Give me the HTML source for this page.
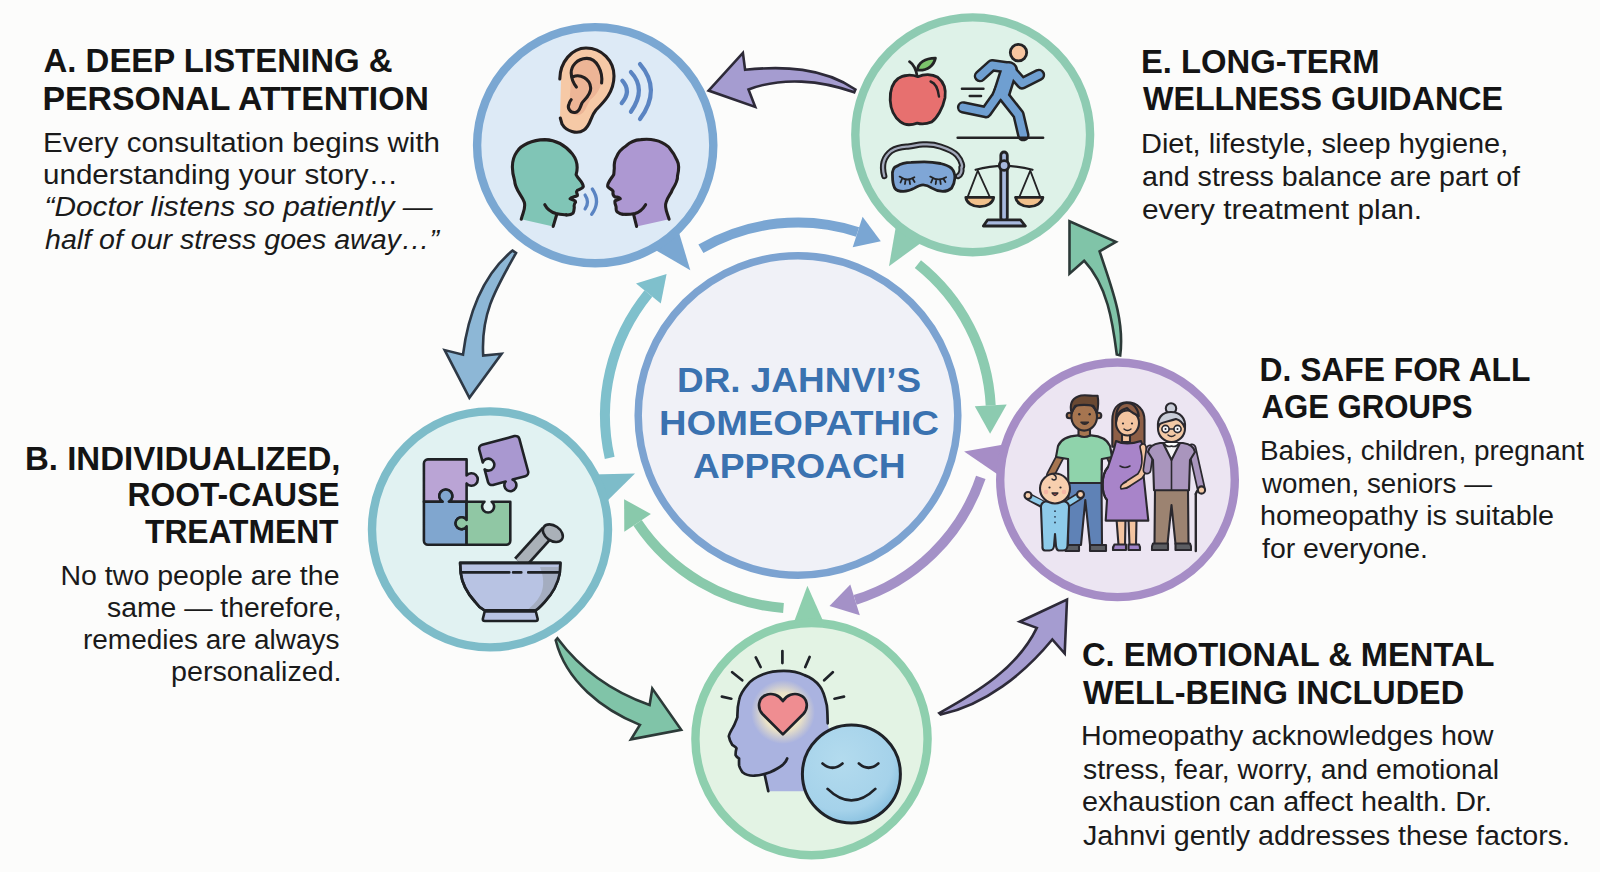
<!DOCTYPE html>
<html><head><meta charset="utf-8">
<style>
html,body{margin:0;padding:0;background:#fcfcfb;}
body{width:1600px;height:872px;overflow:hidden;position:relative;}
svg{position:absolute;left:0;top:0;}
.h{font-family:"Liberation Sans",sans-serif;font-weight:bold;font-size:33px;fill:#141414;}
.b{font-family:"Liberation Sans",sans-serif;font-size:27px;fill:#1a1a1a;}
.i{font-style:italic;}
.ct{font-family:"Liberation Sans",sans-serif;font-weight:bold;font-size:35.5px;fill:#3a72b0;}

</style></head>
<body>
<svg width="1600" height="872" viewBox="0 0 1600 872">
<defs><radialGradient id="glow" cx="0.5" cy="0.5" r="0.5">
<stop offset="0" stop-color="#fff6c8" stop-opacity="1"/>
<stop offset="0.6" stop-color="#fbeec0" stop-opacity="0.8"/>
<stop offset="1" stop-color="#f5e8c0" stop-opacity="0"/>
</radialGradient>
<radialGradient id="smg" cx="0.4" cy="0.35" r="0.7">
<stop offset="0" stop-color="#b3dbee"/>
<stop offset="0.75" stop-color="#a5d2ea"/>
<stop offset="1" stop-color="#86bfdf"/>
</radialGradient>
</defs>
<path d="M700.9,248.7 A193,193 0 0 1 857.6,231.9" fill="none" stroke="#7aa6d3" stroke-width="10"/><polygon points="862.6,216.7 880.8,241.2 852.7,247.2" fill="#7aa6d3"/>
<path d="M917.9,264.2 A193,193 0 0 1 990.7,405.4" fill="none" stroke="#8ccbb0" stroke-width="10"/><polygon points="1006.7,404.6 990.1,433.7 974.8,406.2" fill="#8ccbb0"/>
<path d="M980.8,477.4 A193,193 0 0 1 855.1,599.9" fill="none" stroke="#a491c7" stroke-width="10"/><polygon points="859.8,615.2 829.5,605.9 850.3,584.6" fill="#a491c7"/>
<path d="M783.5,608.0 A193,193 0 0 1 637.6,522.9" fill="none" stroke="#89c9ab" stroke-width="10"/><polygon points="624.3,531.8 624.1,499.2 650.9,514.0" fill="#89c9ab"/>
<path d="M609.7,457.9 A193,193 0 0 1 648.4,293.5" fill="none" stroke="#7fc0cc" stroke-width="10"/><polygon points="636.0,283.4 666.6,274.1 660.8,303.6" fill="#7fc0cc"/>
<circle cx="798" cy="415.5" r="159.8" fill="#f0f1f7" stroke="#7ca3d1" stroke-width="7.5"/>
<polygon points="677.4,227.2 690.3,270.2 650.6,247.2" fill="#7aa7d2"/>
<circle cx="595.2" cy="145.2" r="118.1" fill="#ddeaf6" stroke="#7aa7d2" stroke-width="8.4"/>
<polygon points="925.0,239.9 889,266.3 896.7,221.6" fill="#8ecbb2"/>
<circle cx="972.7" cy="134.8" r="117.39999999999999" fill="#def2e8" stroke="#8ecbb2" stroke-width="8.4"/>
<polygon points="592.1,474.4 635,473.6 603.3,504.7" fill="#7dbcc9"/>
<circle cx="490" cy="529.4" r="118.0" fill="#e1f2f2" stroke="#7dbcc9" stroke-width="8.4"/>
<polygon points="1002.2,477.6 964.1,451.5 1008.0,443.8" fill="#a68dc6"/>
<circle cx="1117.5" cy="479.8" r="117.3" fill="#ece5f2" stroke="#a68dc6" stroke-width="8.4"/>
<polygon points="792.3,626.6 807.4,585.7 825.2,625.8" fill="#8ecfae"/>
<circle cx="811.5" cy="739.1" r="116.1" fill="#e3f3e4" stroke="#8ecfae" stroke-width="8.4"/>
<g stroke-width="2.6" stroke-linejoin="miter" stroke-miterlimit="10">
<path d="M745.1,69.8 C783.3,65.9 822.9,67.4 855.4,89.5 L854.2,92.3 C821.0,80.3 782.0,76.7 748.5,89.5 L755.2,106.9 L708.6,90.6 L742.9,52.9 Z" fill="#a59cd0" stroke="#2d2a38"/>
<path d="M512.6,250.6 C481.6,275.7 467.7,316.6 463.0,354.7 L444.7,350.1 L469.4,397.8 L501.6,353.8 L483.2,355.6 C480.7,312.5 496.6,287.7 516.0,253.0 Z" fill="#8db7d6" stroke="#2e3946"/>
<path d="M557.4,638.3 C580.8,669.6 612.7,692.2 649.6,705.0 L652.3,688.5 L681.2,729.8 L631.0,739.4 L639.9,724.9 C602.3,709.6 565.9,681.3 555.7,640.3 Z" fill="#80c4a8" stroke="#2c3a38"/>
<path d="M939.3,713.1 C977.1,692.2 1017.2,668.4 1036.8,627.9 L1019.8,621.7 L1067.0,599.6 L1064.7,653.5 L1052.3,639.5 C1023.6,674.3 985.4,704.7 940.8,714.6 Z" fill="#a59cd0" stroke="#2d2a38"/>
<path d="M1120.2,355.4 C1124.9,319.3 1110.5,284.8 1099.6,251.3 L1115.9,241.8 L1069.5,221.2 L1069.5,273.7 L1084.1,260.7 C1107.4,285.5 1112.7,322.1 1116.8,354.5 Z" fill="#80c4a8" stroke="#2c3a38"/>
</g>
<g id="iconA" stroke="#231f20" stroke-width="3.1" stroke-linecap="round" stroke-linejoin="round">
<!-- ear -->
<path d="M561,79 C560,62 572,48 586,48 C602,48 614,61 614,76 C614,92 604,102 596,110 C590,117 591,125 584,130 C577,135 566,131 562,124 L560,118 Z" fill="#f6c9a6" stroke="none"/>
<path d="M586.5,58.4 C597,58 603,72 601.6,83 C598,95 590,100 590,100 L585,110 C580,118 572,116 569,110 L571,80 C571,66 577,58.8 586.5,58.4 Z" fill="#e9ae90" stroke="none" opacity="0.75"/>
<path d="M559.8,79 C560,62 572,48 586,48 C602,48 614,61 614,76 C614,92 604,102 596,110 C590,117 591,125 584,130 C577,135 566,131 562,124 L560.3,118" fill="none"/>
<path d="M601.6,83 C603,72 597,58 586.5,58.4 C577,58.8 571,66 571.2,73 C571.4,80 574,84 576.4,87" fill="none"/>
<path d="M573,76.7 C580,74 590,78 590.7,88 C591,95 584,100 582,103 C580,107 580,112 575,112.5 C570,113 567,108 569,104 C569.5,102 570.5,100.5 571.2,99.6" fill="none"/>
<!-- waves -->
<g stroke="#5a84c2" stroke-width="4.2" fill="none">
<path d="M622.3,80.7 Q631.8,91.3 621.7,103.1"/>
<path d="M630.9,72.1 Q646.9,89.1 630.9,111.7"/>
<path d="M640,64.1 Q661.8,89.4 640,119.1"/>
<path d="M585.1,195.1 Q589.9,202 585.1,208.9" stroke-width="3.3"/>
<path d="M592.3,189 Q601,201.6 591.7,214.3" stroke-width="3.3"/>
</g>
<!-- left head -->
<path d="M521.3,219.2 C523,212 526,208 524.3,202.3 C522,195 515,190 514.6,180.6 C512,172 511,160 517,151.7 C521,145 532,140 544.8,139.6 C556,140 566,146 572.5,154.1 C577,160 578,168 576.1,174.6 C578,179 583,182 583.3,186.6 C582,190 577,189 576.7,191.4 C576,193 578,194 577.3,195.7 C575,197 571,197 570.1,198.7 C572,200 576,200 575.5,202.3 C574,204 574,206 574.3,207.1 C574,210 574,212 573.1,213.1 C571,215 568,215 556.8,214.3 L553.2,226.4 Z" fill="#80c5b6" stroke="none"/>
<path d="M521.3,219.2 C523,212 526,208 524.3,202.3 C522,195 515,190 514.6,180.6 C512,172 511,160 517,151.7 C521,145 532,140 544.8,139.6 C556,140 566,146 572.5,154.1 C577,160 578,168 576.1,174.6 C578,179 583,182 583.3,186.6 C582,190 577,189 576.7,191.4 C576,193 578,194 577.3,195.7 C575,197 571,197 570.1,198.7 C572,200 576,200 575.5,202.3 C574,204 574,206 574.3,207.1 C574,210 574,212 573.1,213.1 C571,215 568,215 566.4,214.9" fill="none"/>
<path d="M544.8,204.7 C547,209 551,212 556,213.5 C560,214.5 563,214.6 566.4,214.9" fill="none"/>
<path d="M556.8,214.3 L553.2,226.4" fill="none"/>
<!-- right head -->
<path d="M669.1,219.2 C667,212 664,207 666.1,202.3 C668,196 671,194 672.1,190.2 C676,184 678,180 677.5,175.8 C679,170 679,164 676.9,160.1 C674,153 671,150 668.5,146.9 C664,143 660,141 655.2,140.2 C650,139 646,139 640.8,139.6 C634,140 630,142 626.3,145.7 C621,149 618,153 616.7,156.5 C614,161 614,165 614.3,168.6 C614,171 614,173 613.7,174.6 C611,179 607,183 607.7,186.6 C609,189 612,189 613.1,191.4 C613,193 612,195 614.9,196.9 C617,197 619,197 620.3,198.7 C618,200 614,200 614.9,202.3 C615,204 616,206 616.1,207.1 C616,209 616,211 617.3,211.9 C619,213 620,214 633.6,214.3 L636.6,226.4 Z" fill="#ad98d2" stroke="none"/>
<path d="M669.1,219.2 C667,212 664,207 666.1,202.3 C668,196 671,194 672.1,190.2 C676,184 678,180 677.5,175.8 C679,170 679,164 676.9,160.1 C674,153 671,150 668.5,146.9 C664,143 660,141 655.2,140.2 C650,139 646,139 640.8,139.6 C634,140 630,142 626.3,145.7 C621,149 618,153 616.7,156.5 C614,161 614,165 614.3,168.6 C614,171 614,173 613.7,174.6 C611,179 607,183 607.7,186.6 C609,189 612,189 613.1,191.4 C613,193 612,195 614.9,196.9 C617,197 619,197 620.3,198.7 C618,200 614,200 614.9,202.3 C615,204 616,206 616.1,207.1 C616,209 616,211 617.3,211.9 C619,213 620,214 622.7,214.3" fill="none"/>
<path d="M645.6,204.7 C643,209 640,212 635,213.5 C630,214.5 627,214.6 622.7,214.3" fill="none"/>
<path d="M633.6,214.3 L636.6,226.4" fill="none"/>
</g>

<g id="iconE" stroke="#232325" stroke-width="2.8" stroke-linecap="round" stroke-linejoin="round">
<!-- apple -->
<path d="M909.5,61.7 C913,64 916,69 917.3,76.7" fill="none"/>
<path d="M917.3,70.1 C918,63 925,58 935.4,58.1 C934,65 928,71 917.3,70.1 Z" fill="#7cc46c"/>
<path d="M917.9,76.7 C912,74.5 903,74.5 898.1,78.5 C892,83 890,92 890.2,100.2 C890.5,107 893,116 900.5,121.9 C905,125.5 912,125 917.3,123.1 C920,124 924,125 931.8,121.9 C937,118 943,108 945,97.8 C946,91 945,83 937.8,77.3 C932,74 924,74 917.9,76.7 Z" fill="#e7706f"/>
<path d="M930.6,81.5 C935,83 938,88 939,96.6" fill="none" stroke-width="2.4"/>
<!-- speed lines -->
<path d="M961.9,88.8 L983.5,88.8 M969.7,96 L981.1,96" fill="none" stroke-width="2.4"/>
<!-- runner limbs: outline then fill -->
<g fill="none" stroke-linecap="round" stroke-linejoin="round">
<path d="M980,76.1 L992,65.3 L1008,67.5 L1022.1,83.3 L1038.9,74.9" stroke="#232325" stroke-width="12.5"/>
<path d="M963.1,107.4 L986,112.2 L997,96.6 L1004,81 L1008,68" stroke="#232325" stroke-width="12.5"/>
<path d="M1003,95 L1018.5,114.6 L1023.3,135.1" stroke="#232325" stroke-width="12.5"/>
<path d="M1002,92 L1009,70" stroke="#232325" stroke-width="18"/>
<path d="M980,76.1 L992,65.3 L1008,67.5 L1022.1,83.3 L1038.9,74.9" stroke="#6f9fd1" stroke-width="7.5"/>
<path d="M963.1,107.4 L986,112.2 L997,96.6 L1004,81 L1008,68" stroke="#6f9fd1" stroke-width="7.5"/>
<path d="M1003,95 L1018.5,114.6 L1023.3,135.1" stroke="#6f9fd1" stroke-width="7.5"/>
<path d="M1002,92 L1009,70" stroke="#6f9fd1" stroke-width="13"/>
</g>
<circle cx="1018.5" cy="52.6" r="8.2" fill="#f7c6a0"/>
<path d="M957.7,137.8 L1043.1,137.8" fill="none" stroke-width="2.6"/>
<!-- sleep mask -->
<path d="M884.3,176.1 C882,168 882,158 891.4,150.9 C898,147 903,147 907.8,146.6 C915,146 918,144 924.2,144.4 C931,144 936,145 940.6,146.6 C948,149 955,153 957,155.3 C962,161 963,168 961.4,167.3 C962,172 960,175 958.1,176.1" fill="none" stroke="#232325" stroke-width="6.2"/>
<path d="M884.3,176.1 C882,168 882,158 891.4,150.9 C898,147 903,147 907.8,146.6 C915,146 918,144 924.2,144.4 C931,144 936,145 940.6,146.6 C948,149 955,153 957,155.3 C962,161 963,168 961.4,167.3 C962,172 960,175 958.1,176.1" fill="none" stroke="#a3a9bb" stroke-width="2.3"/>
<path d="M892.5,176.1 C892,170 894,167 896.9,166.2 C902,163 906,162.5 911.1,162.4 C916,162 920,161.9 924.2,161.9 C930,162 935,162.5 940.6,163.5 C945,164.5 949,166 951.6,168.4 C954,171 955,175 954.8,178.3 C954.5,182 953,186 951.6,188.1 C949,190.5 946,191.4 942.8,191.4 C938,191.4 935,190 931.9,188.1 C929,186 926,184.8 923.1,184.8 C920,184.8 917,186.5 914.4,188.1 C911,190 907,191.4 903.4,191.4 C899,191.4 896,190 894.7,188.1 C893,185 892.5,181 892.5,176.1 Z" fill="#7fa6d6"/>
<g fill="none" stroke-width="1.8">
<path d="M899.6,176.6 Q907,182 914.4,177.2 M902,179 L900.5,182.5 M905.5,180.2 L905,184 M909.5,180.4 L910,184 M912.8,179 L914.6,182"/>
<path d="M930.2,176.6 Q938,182 946.1,177.2 M932.6,179 L931.1,182.5 M936.2,180.2 L935.7,184 M940.2,180.4 L940.7,184 M943.6,179 L945.4,182"/>
</g>
<!-- scale -->
<path d="M975.6,169.8 Q1004,162 1032.5,169.8" fill="none" stroke-width="2.2"/>
<path d="M977.8,170.6 L967.5,197.4 M977.8,170.6 L990,197.4 M1030.3,170.6 L1019.2,197.4 M1030.3,170.6 L1040.4,197.4" fill="none" stroke-width="1.8"/>
<path d="M965.8,197.4 L993.7,197.4 C993,203 987,206.7 979.8,206.7 C972.5,206.7 966.5,203 965.8,197.4 Z" fill="#f2c18c"/>
<path d="M1015.5,197.4 L1042.9,197.4 C1042,203 1036,206.7 1029.2,206.7 C1022.4,206.7 1016.4,203 1015.5,197.4 Z" fill="#f2c18c"/>
<rect x="1000.8" y="152" width="6.5" height="69" rx="3.2" fill="#a8b9de"/>
<circle cx="1004.1" cy="165.5" r="4.8" fill="#a8b9de"/>
<path d="M987.7,219.8 L1020.5,219.8 L1025.4,226 L983.3,226 Z" fill="#a8b9de"/>
</g>

<g id="iconB" stroke="#1f2226" stroke-width="2.6" stroke-linejoin="round" stroke-linecap="round">
<!-- puzzle -->
<path d="M427.9,459.4 L466.6,459.4 L466.6,475.5 A6.3,6.3 0 1 1 466.6,483.5 L466.6,501.7 L448.9,501.7 A6.5,6.5 0 1 0 442.7,501.7 L423.9,501.7 L423.9,463.4 A4,4 0 0 1 427.9,459.4 Z" fill="#baa4d5"/>
<path d="M423.9,501.7 L442.7,501.7 A6.5,6.5 0 1 1 448.9,501.7 L466.6,501.7 L466.6,520 A6,6 0 1 0 466.6,526.4 L466.6,544.7 L427.9,544.7 A4,4 0 0 1 423.9,540.7 Z" fill="#80a6cf"/>
<path d="M466.6,501.7 L484.5,501.7 A6,6 0 1 0 491.7,501.7 L510.3,501.7 L510.3,540.7 A4,4 0 0 1 506.3,544.7 L466.6,544.7 L466.6,526.4 A6,6 0 1 1 466.6,520 Z" fill="#90c7a4"/>
<g transform="translate(503.7,460.5) rotate(-15.1)">
<path d="M-16.75,-20.75 L16.75,-20.75 A4,4 0 0 1 20.75,-16.75 L20.75,16.75 A4,4 0 0 1 16.75,20.75 L3.6,20.75 A6,6 0 1 1 -3.6,20.75 L-16.75,20.75 A4,4 0 0 1 -20.75,16.75 L-20.75,3.6 A6,6 0 1 0 -20.75,-3.6 L-20.75,-16.75 A4,4 0 0 1 -16.75,-20.75 Z" fill="#a998d0"/>
</g>
<!-- pestle -->
<path d="M520,563 L548,532" stroke="#1f2226" stroke-width="16" fill="none" stroke-linecap="butt"/>
<path d="M520,563 L548,532" stroke="#aab1b8" stroke-width="10.5" fill="none" stroke-linecap="butt"/>
<ellipse cx="552.8" cy="533.2" rx="11" ry="7.5" transform="rotate(35 552.8 533.2)" fill="#aab1b8"/>
<!-- bowl -->
<path d="M460.1,562.9 L560.4,562.9 L559.8,573 C558,583 554,592 544.6,602 C541,606 538,609 535.8,610.2 L484.1,610.2 C480,608 478,606 475.2,602 C467,593 462,584 460.7,573 Z" fill="#b8c3e3"/>
<path d="M540,567 L559.5,567 L559.8,573 C558,583 554,592 544.6,602 C541,606 538,609 535.8,610.2 L527,610.2 C540,600 548,588 540,567 Z" fill="#a4adc0" stroke="none"/>
<path d="M460.1,562.9 L560.4,562.9 L559.8,573 C558,583 554,592 544.6,602 C541,606 538,609 535.8,610.2 L484.1,610.2 C480,608 478,606 475.2,602 C467,593 462,584 460.7,573 Z" fill="none"/>
<path d="M462,572.4 L509.3,572.4 M513.1,572.4 L521.3,572.4 M528.2,572.4 L558.5,572.4" fill="none"/>
<path d="M484.7,611.5 L535.8,611.5 L537.7,619 Q537.7,621 535.7,621 L484.8,621 Q482.8,621 482.8,619 Z" fill="#b8c3e3"/>
</g>

<g id="iconD" stroke="#2a282e" stroke-width="2.1" stroke-linecap="round" stroke-linejoin="round">
<!-- MAN -->
<!-- arms -->
<path d="M1061,455 L1050.5,475" stroke="#2a282e" stroke-width="9" fill="none"/>
<path d="M1061,455 L1050.5,475" stroke="#a67550" stroke-width="5.5" fill="none"/>
<path d="M1108,452 L1113,463" stroke="#2a282e" stroke-width="8.5" fill="none"/>
<path d="M1108,452 L1113,463" stroke="#a67550" stroke-width="5" fill="none"/>
<!-- jeans -->
<path d="M1068.5,482 L1101.5,482 L1102,545 L1090,545 L1085.3,500 L1081,545 L1068,545 Z" fill="#5f82b6"/>
<path d="M1065.5,545 L1079,545 L1079,551 L1065.5,551 Z M1090,545 L1106,545 L1106,551 L1090,551 Z" fill="#5c5e63"/>
<!-- shirt -->
<path d="M1078,435.4 L1091,435.4 C1100,436 1107,439 1110,446 L1112,457 L1102,459 L1101.5,483 L1068.3,483 L1068,459 L1056,457 L1058,446 C1061,439 1068,436 1078,435.4 Z" fill="#8fd3ab"/>
<path d="M1068.3,459 L1068.3,470 M1101.5,459 L1101.5,470" fill="none" stroke-width="1.6"/>
<!-- neck -->
<path d="M1078.5,427 L1078.5,435.5 Q1084.3,438.5 1090,435.5 L1090,427 Z" fill="#a67550"/>
<!-- head -->
<circle cx="1069.5" cy="415.5" r="2.8" fill="#a67550"/>
<circle cx="1098.5" cy="415.5" r="2.8" fill="#a67550"/>
<ellipse cx="1084.2" cy="416.8" rx="12.8" ry="13.8" fill="#a67550"/>
<path d="M1071.6,413 C1069.5,405 1072,399 1078,396.5 C1082,394.5 1086,395 1090,395.6 C1093,396 1096,395.5 1097.6,395.8 C1098.5,401 1098.5,407 1096.8,413 C1095.5,410 1094.5,407 1093.5,405.8 C1088,404.8 1080,404.8 1075.2,405.8 C1073.8,408 1072.6,410.5 1071.6,413 Z" fill="#694832"/>
<circle cx="1079.3" cy="414.3" r="1.2" fill="#2a282e" stroke="none"/>
<circle cx="1089.7" cy="414.3" r="1.2" fill="#2a282e" stroke="none"/>
<path d="M1080.9,422.2 Q1084.7,426.5 1088.5,422.2 Z" fill="#3a2a22" stroke-width="1.3"/>
<!-- BABY -->
<path d="M1042,504 L1029,497" stroke="#2a282e" stroke-width="8" fill="none"/>
<path d="M1067.3,503.6 L1079.6,496" stroke="#2a282e" stroke-width="8" fill="none"/>
<path d="M1042.7,503.6 L1029,497" stroke="#8ecbea" stroke-width="4.8" fill="none"/>
<path d="M1067.3,503.6 L1079.6,496" stroke="#8ecbea" stroke-width="4.8" fill="none"/>
<circle cx="1028" cy="495.5" r="3.5" fill="#f7cfae"/>
<circle cx="1080.5" cy="494.5" r="3.5" fill="#f7cfae"/>
<path d="M1045,501.5 L1065,501.5 Q1069.5,503 1069,508 L1067.5,546 Q1067,550.5 1063,550.5 L1058.5,550.5 Q1056.5,550 1056,546 L1055,534 L1054,546 Q1053.5,550.5 1049.5,550.5 L1045,550.5 Q1042,550 1042.5,546 L1041,508 Q1040.5,503 1045,501.5 Z" fill="#8ecbea"/>
<circle cx="1055" cy="511.2" r="0.9" fill="#2a3a50" stroke="none"/>
<circle cx="1055" cy="516.8" r="0.9" fill="#2a3a50" stroke="none"/>
<circle cx="1055" cy="522.5" r="0.9" fill="#2a3a50" stroke="none"/>
<circle cx="1055" cy="488.5" r="15" fill="#f7cfae"/>
<path d="M1053,474 Q1057,476 1056,479 Q1054,481 1052,479" fill="none" stroke-width="1.4"/>
<circle cx="1049.5" cy="487.5" r="1.1" fill="#2a282e" stroke="none"/>
<circle cx="1060.5" cy="487.5" r="1.1" fill="#2a282e" stroke="none"/>
<circle cx="1046" cy="492" r="2.3" fill="#f4a9a0" stroke="none" opacity="0.7"/>
<circle cx="1064" cy="492" r="2.3" fill="#f4a9a0" stroke="none" opacity="0.7"/>
<path d="M1052,493 Q1055,498 1058,493 Z" fill="#c0504a" stroke-width="1.3"/>
<!-- WOMAN -->
<path d="M1126.5,402.3 C1117,402.5 1112.5,410 1112.3,420 L1112.3,446.8 L1144.5,446.8 L1144.5,420 C1144.5,410 1138,402.3 1126.5,402.3 Z" fill="#8e5f46"/>
<path d="M1122,434 L1122,442 L1130,442 L1130,434 Z" fill="#f3c4a0"/>
<!-- legs -->
<path d="M1116.5,519 L1118.5,545 L1125,545 L1125.5,519 Z M1128.5,519 L1129.5,545 L1136,545 L1136.5,519 Z" fill="#f3c4a0"/>
<path d="M1114.5,544.5 L1126,544.5 L1126,550 L1113,550 Q1112.5,547 1114.5,544.5 Z M1128.5,544.5 L1139,544.5 Q1140.5,547 1140,550 L1128.5,550 Z" fill="#9d82c6"/>
<!-- dress -->
<path d="M1116,441 Q1126,446 1141,441 L1144,449 L1143,470 L1148.3,520.6 L1105.7,520.6 L1107,500 C1101,493 1101,475 1108,467 L1114,449 Z" fill="#a884c9"/>
<path d="M1108,467 C1101,475 1101,493 1107,500" fill="none"/>
<path d="M1120,466 Q1125,469 1130,466" fill="none" stroke-width="1.5"/>
<!-- arm on belly -->
<path d="M1143,447 C1146,458 1146,468 1140,476 L1126,485" stroke="#2a282e" stroke-width="7.5" fill="none"/>
<path d="M1143,447 C1146,458 1146,468 1140,476 L1126,485" stroke="#f3c4a0" stroke-width="4.3" fill="none"/>
<path d="M1126,482 Q1119,485 1121,489 Q1126,489 1130,486" fill="#f3c4a0" stroke-width="1.6"/>
<!-- face -->
<ellipse cx="1127.5" cy="423" rx="11.5" ry="12.5" fill="#f3c4a0"/>
<path d="M1116.2,422 C1117,413 1120,410 1127,408 C1130,412 1135,414 1138.8,416 C1138,408 1133,403 1127,403 C1120,403 1115,409 1116.2,422 Z" fill="#8e5f46"/>
<circle cx="1123" cy="423.5" r="1.1" fill="#2a282e" stroke="none"/>
<circle cx="1132" cy="423.5" r="1.1" fill="#2a282e" stroke="none"/>
<path d="M1124,429 Q1127.5,432 1131,429" fill="none" stroke-width="1.4"/>
<!-- GRANDMA -->
<path d="M1155,490 L1188,490 L1188.5,544 L1175.5,544 L1171.5,505 L1167.5,544 L1154.5,544 Z" fill="#9c8371"/>
<path d="M1153,543.5 L1168,543.5 L1168,550 L1152,550 Q1151.5,546 1153,543.5 Z M1175.5,543.5 L1190,543.5 Q1191.5,546 1191,550 L1175.5,550 Z" fill="#5c5e63"/>
<!-- cane -->
<path d="M1195.8,494 L1195.8,551" fill="none" stroke-width="2.4"/>
<path d="M1195.8,494 Q1198,487 1203,492" fill="none" stroke-width="2.4"/>
<!-- arms -->
<path d="M1192,448 L1201,488" stroke="#2a282e" stroke-width="9" fill="none"/>
<path d="M1192,448 L1201,488" stroke="#a995bd" stroke-width="5.6" fill="none"/>
<circle cx="1201.5" cy="490" r="3.6" fill="#f3c9a5"/>
<path d="M1150,449 L1147,470" stroke="#2a282e" stroke-width="9" fill="none"/>
<path d="M1150,449 L1147,470" stroke="#a995bd" stroke-width="5.6" fill="none"/>
<!-- cardigan -->
<path d="M1160,443 L1183,443 C1190,444 1194,447 1195,452 L1190,460 L1189,490.3 L1154,490.3 L1153,460 L1148,452 C1149,447 1153,444 1160,443 Z" fill="#a995bd"/>
<path d="M1163,443 L1171.5,460 L1180,443 Z" fill="#f4f4f6"/>
<path d="M1171.5,460 L1171.5,490" fill="none" stroke-width="1.6"/>
<path d="M1164,443 Q1167,448 1171.5,446 Q1176,448 1179,443" fill="#ffffff" stroke-width="1.5"/>
<!-- head -->
<ellipse cx="1171.5" cy="428.5" rx="13.5" ry="13.5" fill="#f3c9a5"/>
<circle cx="1171" cy="408.5" r="5.2" fill="#c9cdd8"/>
<path d="M1158,428 C1157,418 1162,412 1171,412 C1180,412 1186,418 1185,428 C1183,423 1180,420 1176,419 C1170,421 1163,422 1160,424 C1159,425 1158.5,426.5 1158,428 Z" fill="#c9cdd8"/>
<circle cx="1165.5" cy="429" r="3.6" fill="#f6f6f8" stroke-width="1.6"/>
<circle cx="1177.5" cy="429" r="3.6" fill="#f6f6f8" stroke-width="1.6"/>
<path d="M1169.1,429 L1173.9,429" fill="none" stroke-width="1.4"/>
<circle cx="1165.5" cy="429" r="1" fill="#2a282e" stroke="none"/>
<circle cx="1177.5" cy="429" r="1" fill="#2a282e" stroke="none"/>
<path d="M1168,435 Q1171.5,438 1175,435" fill="none" stroke-width="1.4"/>
</g>

<g id="iconC" stroke="#1f2228" stroke-width="2.7" stroke-linecap="round" stroke-linejoin="round">
<!-- head fill -->
<path d="M827.7,723.3 C827.5,716 827.5,710 826.8,705.2 C825,697 823,690 819.9,686.3 C815,680 810,677 804.4,675.1 C798,672 791,670.8 783.8,670.8 C776,670.8 769,672 763.2,674.2 C756,677 751,680 747.7,684.6 C743,690 740,695 739.1,700 C737.5,706 737.3,712 737.4,717.2 C736.5,720 735,723 733.9,725.8 C732,729 729.5,733 728.8,736.2 C729.5,740 731,743 732.2,744.8 C734,746 736,747 736.5,748.2 C736,750 735.5,753 735.6,755.1 C736.5,757 738,758 739.1,758.5 C739,761 739,763 739.1,765.4 C739.5,768 741,770 742.5,772.3 C746,775 750,776 764.9,775.7 L768.3,791.2 L815,791.2 L835,760 Z" fill="#aab3e0" stroke="none"/>
<circle cx="783" cy="712" r="32" fill="url(#glow)" stroke="none"/>
<path d="M827.7,723.3 C827.5,716 827.5,710 826.8,705.2 C825,697 823,690 819.9,686.3 C815,680 810,677 804.4,675.1 C798,672 791,670.8 783.8,670.8 C776,670.8 769,672 763.2,674.2 C756,677 751,680 747.7,684.6 C743,690 740,695 739.1,700 C737.5,706 737.3,712 737.4,717.2 C736.5,720 735,723 733.9,725.8 C732,729 729.5,733 728.8,736.2 C729.5,740 731,743 732.2,744.8 C734,746 736,747 736.5,748.2 C736,750 735.5,753 735.6,755.1 C736.5,757 738,758 739.1,758.5 C739,761 739,763 739.1,765.4 C739.5,768 741,770 742.5,772.3 C746,775 750,776 754.6,775.7 C760,775.5 765,774 770,772.3 C775,770 779,768 782.1,765.4 C785,763 786.5,760.5 787.2,758.5" fill="none"/>
<path d="M764.9,775.7 L768.3,791.2" fill="none"/>
<!-- heart -->
<path d="M782.9,734.4 L762.5,714 C757,708 758,698 766,695 C772,692.5 779,695 782.9,701 C786.8,695 793.8,692.5 799.8,695 C807.8,698 808.8,708 803.3,714 Z" fill="#ef8d91"/>
<!-- rays -->
<path d="M721.9,696.6 L731.3,698.7 M732.2,672.2 L742.2,680.3 M755.8,657.4 L760.6,667 M782.4,651 L782.4,663.1 M809.6,657 L805.3,667 M832.8,672.2 L824.2,680.3 M844,696.6 L834.5,698.7" fill="none"/>
<!-- smiley -->
<circle cx="851.4" cy="774" r="49" fill="url(#smg)" stroke-width="3"/>
<path d="M822.5,763.5 Q832.5,772 842.5,763.5 M858.9,763.5 Q868.6,772 878.3,763.5 M827.6,788.9 Q851.4,812 875.3,788.9" fill="none"/>
</g>


<text id="t0" class="h" x="43.5" y="72.3" textLength="349.0" lengthAdjust="spacingAndGlyphs">A. DEEP LISTENING &amp;</text>
<text id="t1" class="h" x="42.5" y="110.3" textLength="386.5" lengthAdjust="spacingAndGlyphs">PERSONAL ATTENTION</text>
<text id="t2" class="b" x="43.0" y="151.8" textLength="397.0" lengthAdjust="spacingAndGlyphs">Every consultation begins with</text>
<text id="t3" class="b" x="43.0" y="183.8" textLength="355.1" lengthAdjust="spacingAndGlyphs">understanding your story…</text>
<text id="t4" class="b i" x="44.5" y="215.9" textLength="388.0" lengthAdjust="spacingAndGlyphs">“Doctor listens so patiently —</text>
<text id="t5" class="b i" x="45.0" y="248.7" textLength="394.0" lengthAdjust="spacingAndGlyphs">half of our stress goes away…”</text>
<text id="t6" class="h" x="1141.0" y="72.5" textLength="238.6" lengthAdjust="spacingAndGlyphs">E. LONG-TERM</text>
<text id="t7" class="h" x="1143.0" y="110" textLength="360.0" lengthAdjust="spacingAndGlyphs">WELLNESS GUIDANCE</text>
<text id="t8" class="b" x="1141.0" y="152.5" textLength="367.3" lengthAdjust="spacingAndGlyphs">Diet, lifestyle, sleep hygiene,</text>
<text id="t9" class="b" x="1142.0" y="185.75" textLength="378.0" lengthAdjust="spacingAndGlyphs">and stress balance are part of</text>
<text id="t10" class="b" x="1142.0" y="218.75" textLength="280.1" lengthAdjust="spacingAndGlyphs">every treatment plan.</text>
<text id="t11" class="h" x="25.0" y="469.6" textLength="315.5" lengthAdjust="spacingAndGlyphs">B. INDIVIDUALIZED,</text>
<text id="t12" class="h" x="127.5" y="505.9" textLength="212.0" lengthAdjust="spacingAndGlyphs">ROOT-CAUSE</text>
<text id="t13" class="h" x="145.0" y="543" textLength="193.5" lengthAdjust="spacingAndGlyphs">TREATMENT</text>
<text id="t14" class="b" x="60.5" y="584.8" textLength="279.0" lengthAdjust="spacingAndGlyphs">No two people are the</text>
<text id="t15" class="b" x="107.0" y="617.3" textLength="234.6" lengthAdjust="spacingAndGlyphs">same — therefore,</text>
<text id="t16" class="b" x="83.0" y="649.2" textLength="256.5" lengthAdjust="spacingAndGlyphs">remedies are always</text>
<text id="t17" class="b" x="171.0" y="681.4" textLength="170.6" lengthAdjust="spacingAndGlyphs">personalized.</text>
<text id="t18" class="h" x="1259.5" y="380.8" textLength="271.0" lengthAdjust="spacingAndGlyphs">D. SAFE FOR ALL</text>
<text id="t19" class="h" x="1261.5" y="418.1" textLength="211.0" lengthAdjust="spacingAndGlyphs">AGE GROUPS</text>
<text id="t20" class="b" x="1260.0" y="459.8" textLength="324.0" lengthAdjust="spacingAndGlyphs">Babies, children, pregnant</text>
<text id="t21" class="b" x="1262.0" y="492.6" textLength="230.0" lengthAdjust="spacingAndGlyphs">women, seniors —</text>
<text id="t22" class="b" x="1260.0" y="524.6" textLength="294.0" lengthAdjust="spacingAndGlyphs">homeopathy is suitable</text>
<text id="t23" class="b" x="1262.0" y="558.2" textLength="166.0" lengthAdjust="spacingAndGlyphs">for everyone.</text>
<text id="t24" class="h" x="1082.0" y="666.4" textLength="412.5" lengthAdjust="spacingAndGlyphs">C. EMOTIONAL &amp; MENTAL</text>
<text id="t25" class="h" x="1083.0" y="704.1" textLength="381.0" lengthAdjust="spacingAndGlyphs">WELL-BEING INCLUDED</text>
<text id="t26" class="b" x="1081.0" y="745.4" textLength="412.5" lengthAdjust="spacingAndGlyphs">Homeopathy acknowledges how</text>
<text id="t27" class="b" x="1083.0" y="778.8" textLength="416.0" lengthAdjust="spacingAndGlyphs">stress, fear, worry, and emotional</text>
<text id="t28" class="b" x="1082.0" y="811.3" textLength="410.0" lengthAdjust="spacingAndGlyphs">exhaustion can affect health. Dr.</text>
<text id="t29" class="b" x="1083.0" y="844.5" textLength="487.0" lengthAdjust="spacingAndGlyphs">Jahnvi gently addresses these factors.</text>
<text id="t30" class="ct" x="677.0" y="391.6" textLength="244.1" lengthAdjust="spacingAndGlyphs">DR. JAHNVI’S</text>
<text id="t31" class="ct" x="659.0" y="434.7" textLength="280.1" lengthAdjust="spacingAndGlyphs">HOMEOPATHIC</text>
<text id="t32" class="ct" x="693.0" y="477.8" textLength="212.6" lengthAdjust="spacingAndGlyphs">APPROACH</text>

</svg>
</body></html>
